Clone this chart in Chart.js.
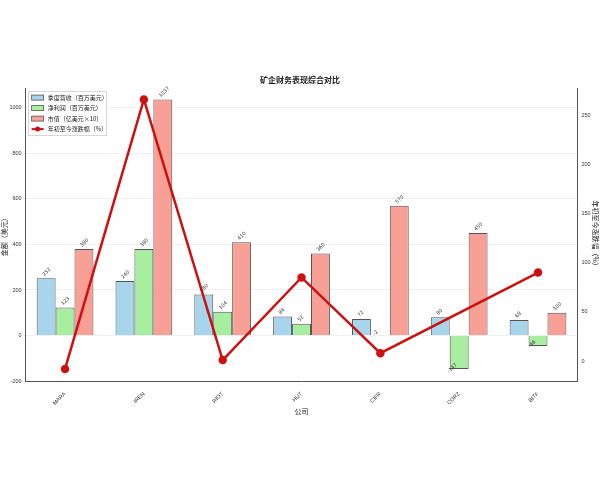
<!DOCTYPE html>
<html><head><meta charset="utf-8">
<script src="https://cdn.jsdelivr.net/npm/chart.js@4.4.0/dist/chart.umd.min.js"></script>
<style>body{margin:0;background:#fff}#wrap{width:600px;height:480px}</style>
</head><body><div id="wrap"><canvas id="c"></canvas></div>
<script>
const companies = ['MARA', 'IREN', 'RIOT', 'HUT', 'CIFR', 'CORZ', 'BITF'];
const revenue = [252, 240, 180, 84, 72, 80, 68];
const profit = [123, 380, 104, 52, -2, -147, -46];
const marketCap = [380, 1037, 410, 360, 570, 450, 100];
const ytdChange = [-8, 266, 1, 85, 8, null, 90];
const leftTicks = [-200, 0, 200, 400, 600, 800, 1000];
const rightTicks = [0, 50, 100, 150, 200, 250];

const barLabels = {
    id: 'barLabels',
    afterDatasetsDraw(chart) {
        const ctx = chart.ctx;
        ctx.save();
        ctx.font = '5px "DejaVu Sans"';
        ctx.fillStyle = '#333';
        [0, 1, 2].forEach(i => {
            chart.getDatasetMeta(i).data.forEach((bar, j) => {
                const v = chart.data.datasets[i].data[j];
                ctx.save();
                ctx.translate(bar.x - 2, v >= 0 ? bar.y - 2 : bar.y - 4);
                ctx.rotate(-Math.PI / 4);
                ctx.textAlign = v >= 0 ? 'left' : 'right';
                ctx.fillText(String(v), 0, 0);
                ctx.restore();
            });
        });
        ctx.restore();
    }
};

// legend drawn inside the plot, top-left
const innerLegend = {
    id: 'innerLegend',
    afterDraw(chart) {
        const ctx = chart.ctx, a = chart.chartArea;
        const x = a.left + 3, y = a.top + 3;
        ctx.save();
        ctx.fillStyle = 'rgba(255,255,255,0.85)';
        ctx.strokeStyle = '#ccc';
        ctx.lineWidth = 0.8;
        ctx.fillRect(x, y, 78, 44);
        ctx.strokeRect(x, y, 78, 44);
        ctx.font = '6px "Noto Sans CJK SC"';
        ctx.textBaseline = 'middle';
        chart.data.datasets.forEach((ds, i) => {
            const cy = y + 6 + i * 10.5;
            if (ds.type === 'bar') {
                ctx.fillStyle = ds.backgroundColor;
                ctx.strokeStyle = '#555';
                ctx.fillRect(x + 3, cy - 2.5, 12, 5);
                ctx.strokeRect(x + 3, cy - 2.5, 12, 5);
            } else {
                ctx.strokeStyle = ds.borderColor;
                ctx.lineWidth = 2;
                ctx.beginPath(); ctx.moveTo(x + 3, cy); ctx.lineTo(x + 15, cy); ctx.stroke();
                ctx.fillStyle = ds.borderColor;
                ctx.beginPath(); ctx.arc(x + 9, cy, 2.5, 0, Math.PI * 2); ctx.fill();
            }
            ctx.fillStyle = '#222';
            ctx.fillText(ds.label, x + 19, cy);
        });
        ctx.restore();
    }
};

new Chart(document.getElementById('c'), {
    data: {
        labels: companies,
        datasets: [
            {type: 'bar', label: '季度营收（百万美元）', data: revenue, backgroundColor: '#a6d5ec', borderColor: '#555', borderWidth: 1, yAxisID: 'y', order: 2},
            {type: 'bar', label: '净利润（百万美元）', data: profit, backgroundColor: '#a8eea0', borderColor: '#555', borderWidth: 1, yAxisID: 'y', order: 2},
            {type: 'bar', label: '市值（亿美元×10）', data: marketCap, backgroundColor: '#f8a096', borderColor: '#555', borderWidth: 1, yAxisID: 'y', order: 2},
            {type: 'line', label: '年初至今涨跌幅（%）', data: ytdChange, borderColor: '#cc1111', backgroundColor: '#cc1111', borderWidth: 2.5, pointRadius: 3, spanGaps: true, yAxisID: 'y1', order: 1}
        ]
    },
    options: {
        responsive: true,
        maintainAspectRatio: false,
        animation: false,
        layout: {padding: {top: 75, bottom: 64, left: 0, right: 0}},
        datasets: {bar: {categoryPercentage: 0.72, barPercentage: 1}},
        plugins: {
            title: {display: true, text: '矿企财务表现综合对比', font: {size: 8, family: '"Noto Sans CJK SC"'}, color: '#222', padding: {top: 0, bottom: 4}},
            legend: {display: false},
            tooltip: {enabled: false}
        },
        scales: {
            x: {
                grid: {display: false},
                border: {color: '#555'},
                ticks: {font: {size: 5.5}, color: '#333', maxRotation: 45, minRotation: 45, padding: 1},
                title: {display: true, text: '公司', font: {size: 7, family: '"Noto Sans CJK SC"'}, color: '#222', padding: 0}
            },
            y: {
                position: 'left', min: -203, max: 1085,
                afterBuildTicks: s => { s.ticks = leftTicks.map(v => ({value: v})); },
                ticks: {font: {size: 5.5}, color: '#333', padding: 1, callback: v => String(v)},
                grid: {color: '#f0f0f0', tickLength: 3},
                border: {color: '#555'},
                title: {display: true, text: '金额（美元）', font: {size: 7, family: '"Noto Sans CJK SC"'}, color: '#222', padding: 0}
            },
            y1: {
                position: 'right', min: -21, max: 277,
                afterBuildTicks: s => { s.ticks = rightTicks.map(v => ({value: v})); },
                ticks: {font: {size: 5.5}, color: '#333', padding: 1},
                grid: {display: false, tickLength: 3},
                border: {color: '#555'},
                title: {display: true, text: '年初至今涨跌幅（%）', font: {size: 7, family: '"Noto Sans CJK SC"'}, color: '#222', padding: 0}
            }
        }
    },
    plugins: [barLabels, innerLegend]
});
</script></body></html>
